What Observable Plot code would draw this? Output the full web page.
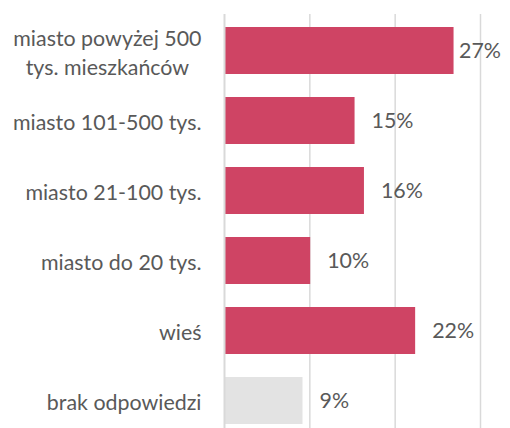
<!DOCTYPE html>
<html>
<head>
<meta charset="utf-8">
<script src="https://cdn.jsdelivr.net/npm/d3@7"></script>
<script src="https://cdn.jsdelivr.net/npm/@observablehq/plot@0.6"></script>
<style>
  html, body { margin: 0; padding: 0; background: #fff; }
  #chart { width: 510px; height: 428px; }
</style>
</head>
<body>
<div id="chart"></div>
<script>
const categories = [
  "miasto powyżej 500\ntys. mieszkańców",
  "miasto 101-500 tys.",
  "miasto 21-100 tys.",
  "miasto do 20 tys.",
  "wieś",
  "brak odpowiedzi"
];
const values = [26.9, 15.3, 16.4, 10.1, 22.4, 9.2];
const kinds = ["odp", "odp", "odp", "odp", "odp", "brak"];
const xTicks = [0, 10, 20, 30];

const data = categories.map((c, i) => ({cat: c, value: values[i], kind: kinds[i]}));

const textColor = "#595959";
const fontSize = 21.4;

const chart = Plot.plot({
  width: 510,
  height: 428,
  marginLeft: 224,
  marginRight: 30,
  marginTop: 14,
  marginBottom: 0,
  style: {fontFamily: "Lato, sans-serif", background: "#fff"},
  x: {domain: [0, 30], axis: null},
  y: {domain: categories, axis: null, paddingInner: 0.33, paddingOuter: 0.115, align: 0.75},
  color: {domain: ["odp", "brak"], range: ["#CF4464", "#E3E3E3"]},
  marks: [
    Plot.ruleX(xTicks.slice(1), {stroke: "#D9D9D9", strokeWidth: 1.5}),
    Plot.barX(data, {x: "value", y: "cat", fill: "kind"}),
    Plot.ruleX([0], {stroke: "#D9D9D9", strokeWidth: 2}),
    Plot.text(data, {
      x: 0, y: "cat", text: "cat",
      textAnchor: "end", dx: -23,
      lineHeight: 1.36,
      fontSize: fontSize, fill: textColor
    }),
    Plot.text(data, {
      x: "value", y: "cat",
      text: d => `${Math.round(d.value)}%`,
      textAnchor: "start", dx: 16.5,
      fontSize: fontSize, fill: textColor
    })
  ]
});

document.getElementById("chart").appendChild(chart);

const textGroups = Array.from(chart.querySelectorAll("g")).filter(g => g.querySelector(":scope > text"));
const catGroup = textGroups[0];
const valGroup = textGroups[1];

// center multi-line category labels (as in the original), keeping the block right-aligned
if (catGroup) catGroup.querySelectorAll("text").forEach(t => {
  const spans = t.querySelectorAll("tspan");
  if (spans.length > 1) {
    const widths = Array.from(spans, s => s.getComputedTextLength());
    const maxW = Math.max(...widths);
    t.setAttribute("text-anchor", "middle");
    t.style.textAnchor = "middle";
    spans.forEach(s => s.setAttribute("x", -maxW / 2));
  }
});

// keep value labels inside the chart area
const svgRect = chart.getBoundingClientRect();
if (valGroup) valGroup.querySelectorAll("text").forEach(t => {
  const r = t.getBoundingClientRect();
  const right = r.right - svgRect.left;
  const limit = 501;
  if (right > limit) {
    const tr = t.getAttribute("transform") || "";
    t.setAttribute("transform", tr + ` translate(${-(right - limit)},0)`);
  }
});
</script>
</body>
</html>
